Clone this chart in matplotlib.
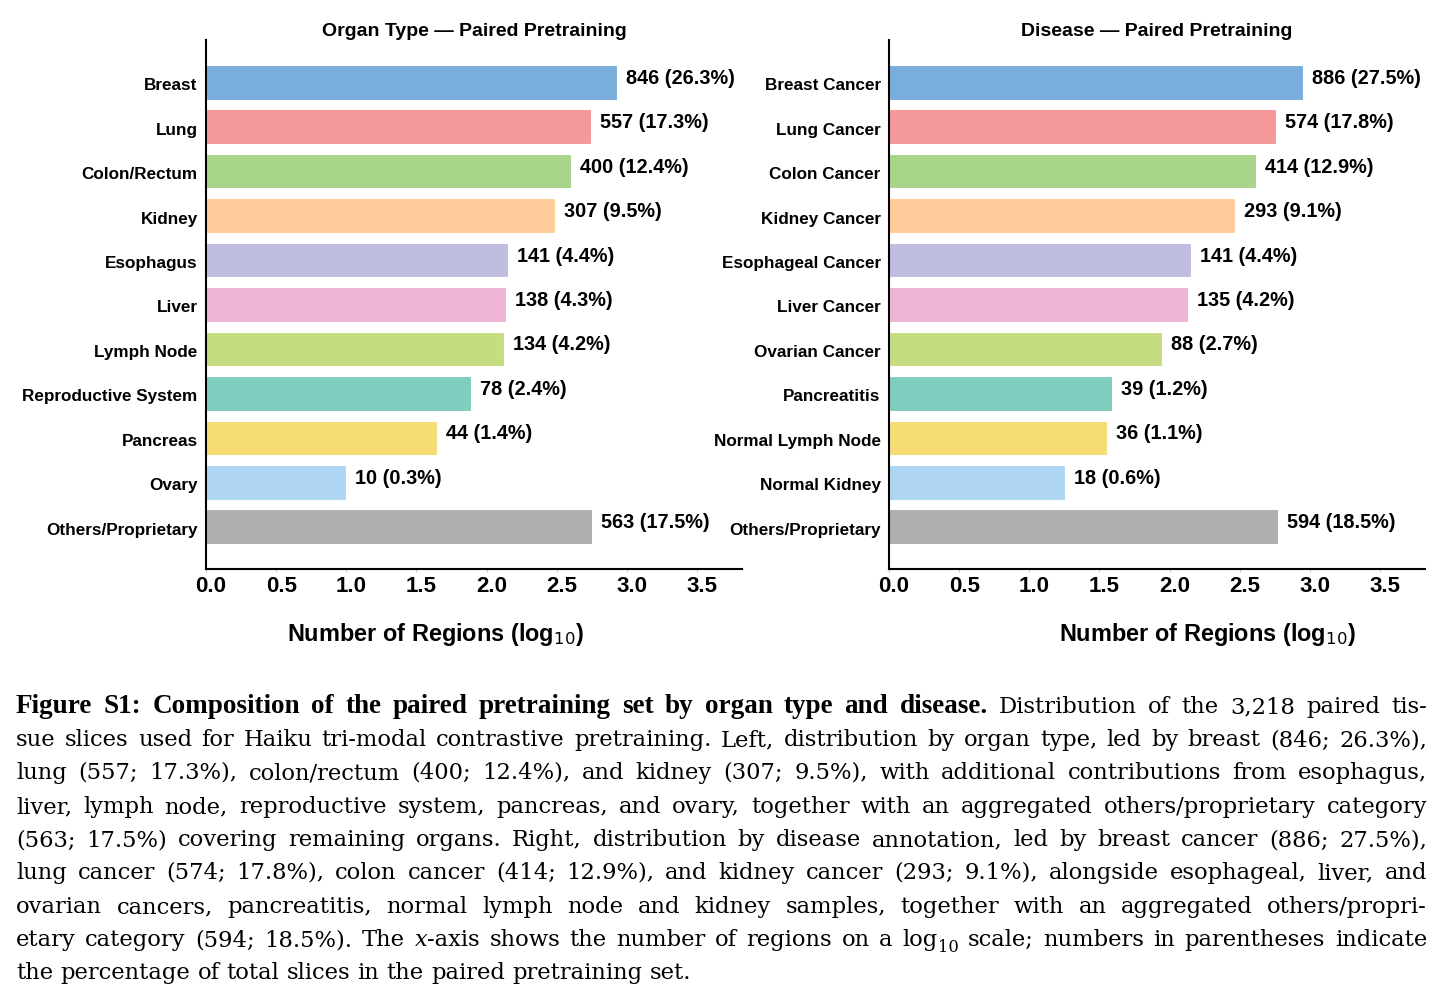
import numpy as np
import matplotlib
matplotlib.use("Agg")
import matplotlib.pyplot as plt
from matplotlib.transforms import ScaledTranslation

# ---------------- data ----------------
organ_labels = ["Breast", "Lung", "Colon/Rectum", "Kidney", "Esophagus", "Liver",
                "Lymph Node", "Reproductive System", "Pancreas", "Ovary",
                "Others/Proprietary"]
organ_counts = [846, 557, 400, 307, 141, 138, 134, 78, 44, 10, 563]
organ_pcts = [26.3, 17.3, 12.4, 9.5, 4.4, 4.3, 4.2, 2.4, 1.4, 0.3, 17.5]

disease_labels = ["Breast Cancer", "Lung Cancer", "Colon Cancer", "Kidney Cancer",
                  "Esophageal Cancer", "Liver Cancer", "Ovarian Cancer",
                  "Pancreatitis", "Normal Lymph Node", "Normal Kidney",
                  "Others/Proprietary"]
disease_counts = [886, 574, 414, 293, 141, 135, 88, 39, 36, 18, 594]
disease_pcts = [27.5, 17.8, 12.9, 9.1, 4.4, 4.2, 2.7, 1.2, 1.1, 0.6, 18.5]

bar_colors = ["#79ADDC", "#F4989A", "#A8D58A", "#FFCB99", "#BFBDE0", "#EFB3D5",
              "#C6DC80", "#7FCDBE", "#F5DC74", "#AED6F2", "#AFAFAF"]

x_ticks = [0.0, 0.5, 1.0, 1.5, 2.0, 2.5, 3.0, 3.5]

titles = ["Organ Type \u2014 Paired Pretraining", "Disease \u2014 Paired Pretraining"]
xlabel_text = r"Number of Regions (log$_{10}$)"

# ---------------- figure ----------------
W, H = 1443, 1001
fig = plt.figure(figsize=(W / 100, H / 100), dpi=100)
SANS = ["Liberation Sans", "DejaVu Sans"]
plt.rcParams["font.family"] = SANS


def px_box(x0, y0, x1, y1):
    return [x0 / W, 1 - y1 / H, (x1 - x0) / W, (y1 - y0) / H]


ax_l = fig.add_axes(px_box(206, 40, 742, 569))
ax_r = fig.add_axes(px_box(889, 40, 1425, 569))

panels = [(ax_l, organ_labels, organ_counts, organ_pcts, titles[0]),
          (ax_r, disease_labels, disease_counts, disease_pcts, titles[1])]

for ax, labels, counts, pcts, title in panels:
    y = np.arange(len(labels))
    vals = np.log10(counts)
    ax.barh(y, vals, height=0.78, color=bar_colors, edgecolor="white",
            linewidth=0.8)
    ax.set_xlim(0, 3.82)
    ax.set_ylim(len(labels) - 0.05, -0.95)
    ax.set_yticks(y)
    ax.set_yticklabels(labels, fontsize=12.3, fontweight="bold")
    ax.tick_params(axis="y", length=0, pad=6)
    ax.set_xticks(x_ticks)
    ax.set_xticklabels([f"{t:.1f}" for t in x_ticks], fontsize=16,
                       fontweight="bold")
    ax.tick_params(axis="x", length=2, width=0.6, pad=3, color="#bbbbbb")
    for lab in ax.get_xticklabels():
        lab.set_transform(lab.get_transform() +
                          ScaledTranslation(5 / 100, 0, fig.dpi_scale_trans))
    for lab in ax.get_yticklabels():
        lab.set_transform(lab.get_transform() +
                          ScaledTranslation(0, -2 / 100, fig.dpi_scale_trans))
    for s in ["top", "right"]:
        ax.spines[s].set_visible(False)
    for s in ["left", "bottom"]:
        ax.spines[s].set_linewidth(1.5)
    for yi, v, c, p in zip(y, vals, counts, pcts):
        ax.annotate(f"{c} ({p}%)", xy=(v, yi), xytext=(9, 4),
                    textcoords="offset pixels", ha="left", va="center",
                    fontsize=14.3, fontweight="bold")
    ax.set_title(title, fontsize=14, fontweight="bold", pad=2)

fig.text(435 / W, 1 - 634 / H, xlabel_text, ha="center", va="center",
         fontsize=16.9, fontweight="bold")
fig.text(1207 / W, 1 - 634 / H, xlabel_text, ha="center", va="center",
         fontsize=16.9, fontweight="bold")

# ---------------- caption (justified) ----------------
REG_FAMILY = ["DejaVu Serif"]
BOLD_FAMILY = ["Liberation Serif", "DejaVu Serif"]
CAP_SIZE = 16.3
BOLD_SIZE = 19.5
B, R, I = "bold", "normal", "italic"

caption_lines = [
    [[("Figure", B)], [("S1:", B)], *[[(w, B)] for w in
      "Composition of the paired pretraining set by organ type and disease.".split()],
     *[[(w, R)] for w in "Distribution of the 3,218 paired tis-".split()]],
    [[(w, R)] for w in "sue slices used for Haiku tri-modal contrastive pretraining. Left, distribution by organ type, led by breast (846; 26.3%),".split()],
    [[(w, R)] for w in "lung (557; 17.3%), colon/rectum (400; 12.4%), and kidney (307; 9.5%), with additional contributions from esophagus,".split()],
    [[(w, R)] for w in "liver, lymph node, reproductive system, pancreas, and ovary, together with an aggregated others/proprietary category".split()],
    [[(w, R)] for w in "(563; 17.5%) covering remaining organs. Right, distribution by disease annotation, led by breast cancer (886; 27.5%),".split()],
    [[(w, R)] for w in "lung cancer (574; 17.8%), colon cancer (414; 12.9%), and kidney cancer (293; 9.1%), alongside esophageal, liver, and".split()],
    [[(w, R)] for w in "ovarian cancers, pancreatitis, normal lymph node and kidney samples, together with an aggregated others/propri-".split()],
    [[(w, R)] for w in "etary category (594; 18.5%). The".split()]
    + [[("x", I), ("-axis", R)]]
    + [[(w, R)] for w in "shows the number of regions on a".split()]
    + [[("log", R), ("10", "sub")]]
    + [[(w, R)] for w in "scale; numbers in parentheses indicate".split()],
    [[(w, R)] for w in "the percentage of total slices in the paired pretraining set.".split()],
]

baselines = [713, 746, 779, 813, 846, 879, 913, 946, 979]
X_LEFT, X_RIGHT = 16, 1427

renderer = fig.canvas.get_renderer()


def make_seg(text, kind):
    kw = dict(family=REG_FAMILY, fontsize=CAP_SIZE, va="baseline", ha="left")
    if kind == B:
        kw["fontweight"] = "bold"
        kw["family"] = BOLD_FAMILY
        kw["fontsize"] = BOLD_SIZE
    elif kind == I:
        kw["fontstyle"] = "italic"
    elif kind == "sub":
        kw["fontsize"] = CAP_SIZE * 0.72
    t = fig.text(0, 0, text, **kw)
    w = t.get_window_extent(renderer).width
    return t, w, kind


space_t = fig.text(0, 0, "a a", family=REG_FAMILY, fontsize=CAP_SIZE)
aa_t = fig.text(0, 0, "aa", family=REG_FAMILY, fontsize=CAP_SIZE)
nat_space = space_t.get_window_extent(renderer).width - aa_t.get_window_extent(renderer).width
space_t.remove()
aa_t.remove()

for li, (line, base) in enumerate(zip(caption_lines, baselines)):
    words = []
    for word in line:
        segs = [make_seg(txt, kind) for txt, kind in word]
        words.append((segs, sum(s[1] for s in segs)))
    total = sum(w for _, w in words)
    if li == len(caption_lines) - 1:
        gap = nat_space
    else:
        gap = (X_RIGHT - X_LEFT - total) / (len(words) - 1)
    x = X_LEFT
    for segs, ww in words:
        xs = x
        for t, w, kind in segs:
            yb = base + (6 if kind == "sub" else 0)
            t.set_position((xs / W, 1 - yb / H))
            xs += w
        x += ww + gap

fig.savefig("out.png", dpi=100)
